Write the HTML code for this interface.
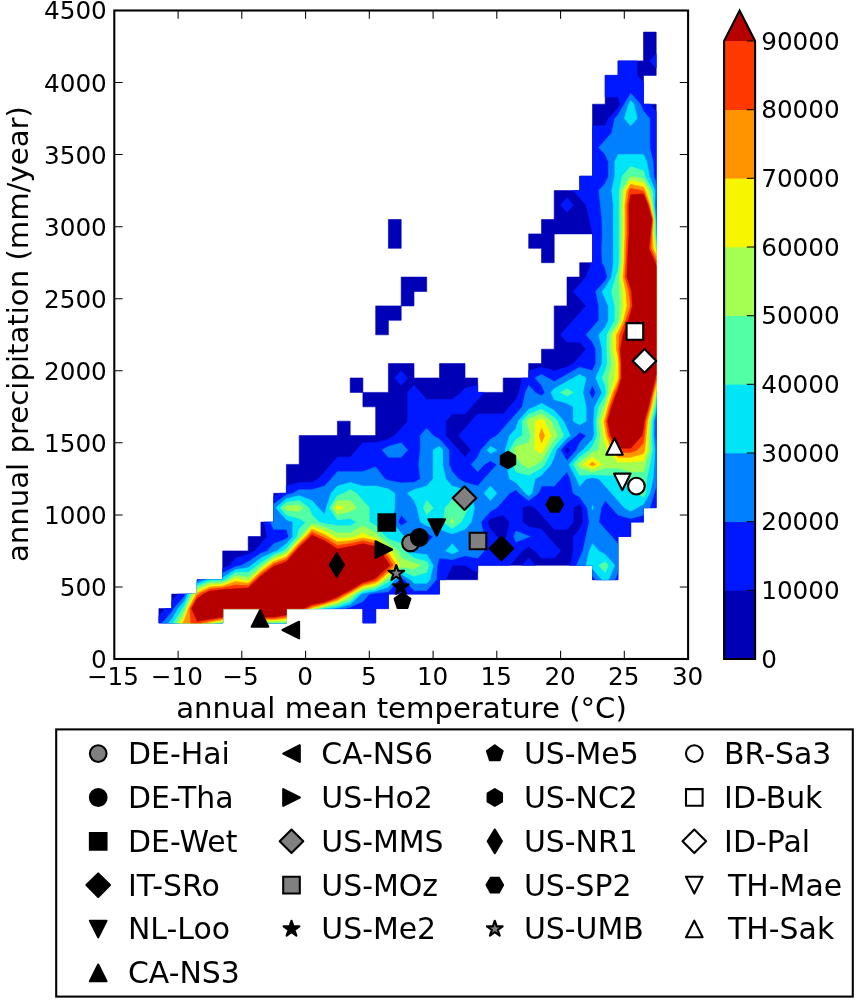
<!DOCTYPE html>
<html lang="en"><head><meta charset="utf-8"><title>Climate space of sites</title>
<style>html,body{margin:0;padding:0;background:#fff}svg{display:block}</style></head>
<body>
<svg width="861" height="1000" viewBox="0 0 861 1000">
<rect width="861" height="1000" fill="#fff"/>
<g stroke-linejoin="round">
<path d="M171.7 623.0L184.4 623.0L197.2 623.0L209.9 623.0L222.7 623.0L222.7 608.6L235.4 608.6L248.2 608.6L260.9 608.6L260.9 623.0L273.7 623.0L286.4 623.0L286.4 608.6L299.2 608.6L311.9 608.6L324.7 608.6L337.4 608.6L350.2 608.6L362.9 608.6L362.9 623.0L375.7 623.0L375.7 608.6L388.4 608.6L388.4 594.1L401.2 594.1L414.0 594.1L426.7 594.1L439.5 594.1L439.5 579.7L452.2 579.7L465.0 579.7L477.7 579.7L477.7 565.3L490.5 565.3L503.2 565.3L516.0 565.3L528.7 565.3L541.5 565.3L554.2 565.3L567.0 565.3L579.7 565.3L592.5 565.3L592.5 579.7L605.2 579.7L618.0 579.7L618.0 565.3L618.0 550.9L618.0 536.5L630.7 536.5L630.7 522.1L643.5 522.1L643.5 507.7L656.2 507.7L656.2 493.3L656.2 478.9L656.2 464.4L656.2 450.0L656.2 435.6L656.2 421.2L656.2 406.8L656.2 392.4L656.2 378.0L656.2 363.6L656.2 349.2L656.2 334.8L656.2 320.3L656.2 305.9L656.2 291.5L656.2 277.1L656.2 262.7L656.2 248.3L656.2 233.9L656.2 219.5L656.2 205.1L656.2 190.6L656.2 176.2L656.2 161.8L656.2 147.4L656.2 133.0L656.2 118.6L656.2 104.2L643.5 104.2L643.5 89.8L643.5 75.4L656.2 75.4L656.2 60.9L656.2 46.5L656.2 32.1L643.5 32.1L643.5 46.5L643.5 60.9L630.7 60.9L618.0 60.9L618.0 75.4L605.2 75.4L605.2 89.8L605.2 104.2L592.5 104.2L592.5 118.6L592.5 133.0L592.5 147.4L592.5 161.8L592.5 176.2L579.7 176.2L579.7 190.6L567.0 190.6L554.2 190.6L554.2 205.1L554.2 219.5L541.5 219.5L541.5 233.9L528.7 233.9L528.7 248.3L541.5 248.3L541.5 262.7L554.2 262.7L554.2 248.3L554.2 233.9L567.0 233.9L579.7 233.9L592.5 233.9L592.5 248.3L592.5 262.7L579.7 262.7L579.7 277.1L567.0 277.1L567.0 291.5L567.0 305.9L554.2 305.9L554.2 320.3L554.2 334.8L554.2 349.2L541.5 349.2L541.5 363.6L528.7 363.6L528.7 378.0L516.0 378.0L503.2 378.0L503.2 392.4L490.5 392.4L477.7 392.4L477.7 378.0L465.0 378.0L465.0 363.6L452.2 363.6L439.5 363.6L439.5 378.0L426.7 378.0L414.0 378.0L414.0 363.6L401.2 363.6L388.4 363.6L388.4 378.0L388.4 392.4L375.7 392.4L362.9 392.4L362.9 406.8L375.7 406.8L375.7 421.2L375.7 435.6L362.9 435.6L350.2 435.6L350.2 421.2L337.4 421.2L337.4 435.6L324.7 435.6L311.9 435.6L299.2 435.6L299.2 450.0L299.2 464.4L286.4 464.4L286.4 478.9L286.4 493.3L273.7 493.3L273.7 507.7L273.7 522.1L260.9 522.1L260.9 536.5L248.2 536.5L248.2 550.9L235.4 550.9L222.7 550.9L222.7 565.3L222.7 579.7L209.9 579.7L197.2 579.7L197.2 594.1L184.4 594.1L171.7 594.1L171.7 608.6L158.9 608.6L158.9 623.0ZM362.9 392.4L362.9 378.0L350.2 378.0L350.2 392.4ZM388.4 334.8L388.4 320.3L401.2 320.3L401.2 305.9L388.4 305.9L375.7 305.9L375.7 320.3L375.7 334.8ZM414.0 305.9L414.0 291.5L426.7 291.5L426.7 277.1L414.0 277.1L401.2 277.1L401.2 291.5L401.2 305.9ZM401.2 248.3L401.2 233.9L401.2 219.5L388.4 219.5L388.4 233.9L388.4 248.3Z" fill="#0000b6" stroke="#0000b6" stroke-width="0.6" fill-rule="evenodd"/>
<path d="M171.7 623.0L184.4 623.0L197.2 623.0L209.9 623.0L222.7 623.0L222.7 608.6L235.4 608.6L248.2 608.6L260.9 608.6L260.9 623.0L273.7 623.0L286.4 623.0L286.4 608.6L299.2 608.6L311.9 608.6L324.7 608.6L337.4 608.6L350.2 608.6L362.9 608.6L362.9 623.0L375.7 623.0L375.7 608.6L388.4 608.6L388.4 594.1L401.2 594.1L414.0 594.1L426.7 594.1L439.5 594.1L439.5 579.7L445.8 579.7L452.2 565.3L452.2 565.3L465.0 565.3L465.0 565.3L477.7 572.5L477.7 565.3L490.5 565.3L503.2 565.3L509.6 565.3L516.0 558.1L522.3 550.9L528.7 546.3L535.1 550.9L541.5 558.1L554.2 558.1L560.6 550.9L554.2 543.7L547.8 536.5L541.5 529.3L528.7 526.7L522.3 522.1L522.3 507.7L528.7 505.3L535.1 507.7L541.5 514.9L547.8 522.1L554.2 529.3L567.0 529.3L573.3 522.1L573.3 507.7L579.7 504.1L582.2 507.7L582.9 522.1L579.7 529.3L573.3 536.5L573.3 550.9L570.2 565.3L579.7 565.3L592.5 565.3L592.5 579.7L605.2 579.7L618.0 579.7L618.0 565.3L618.0 550.9L618.0 536.5L630.7 536.5L630.7 522.1L643.5 522.1L643.5 507.7L656.2 507.7L656.2 493.3L656.2 478.9L656.2 464.4L656.2 450.0L656.2 435.6L656.2 421.2L656.2 406.8L656.2 392.4L656.2 378.0L656.2 363.6L656.2 349.2L656.2 334.8L656.2 320.3L656.2 305.9L656.2 291.5L656.2 277.1L656.2 262.7L656.2 248.3L656.2 233.9L656.2 219.5L656.2 205.1L656.2 190.6L656.2 176.2L656.2 161.8L656.2 147.4L656.2 133.0L656.2 118.6L656.2 111.4L649.8 104.2L643.5 104.2L643.5 89.8L643.5 82.6L637.1 75.4L637.1 60.9L630.7 60.9L618.0 60.9L618.0 75.4L605.2 75.4L605.2 89.8L605.2 97.0L618.0 97.0L620.1 104.2L618.0 107.8L608.4 118.6L605.2 125.8L592.5 125.8L592.5 133.0L592.5 147.4L592.5 161.8L592.5 176.2L579.7 176.2L579.7 190.6L573.3 190.6L579.7 197.8L586.1 205.1L589.5 219.5L592.5 233.9L592.5 233.9L592.5 233.9L592.5 248.3L592.5 262.7L591.3 262.7L586.1 277.1L579.7 284.3L573.3 291.5L579.7 298.7L586.1 305.9L579.7 313.1L573.3 320.3L567.0 327.5L560.6 334.8L567.0 342.0L579.7 342.0L586.1 349.2L579.7 356.4L573.3 363.6L567.0 367.2L554.2 370.8L541.5 367.2L528.7 370.8L528.7 378.0L522.3 378.0L519.1 392.4L516.0 399.6L509.6 406.8L503.2 414.0L490.5 414.0L477.7 414.0L471.3 421.2L465.0 428.4L458.6 435.6L465.0 442.8L471.3 450.0L465.0 457.2L458.6 450.0L452.2 442.8L445.8 435.6L445.8 421.2L452.2 414.0L465.0 414.0L471.3 406.8L477.7 399.6L484.1 392.4L477.7 392.4L477.7 385.2L465.0 388.3L461.3 392.4L452.2 399.6L439.5 399.6L426.7 399.6L420.3 392.4L414.0 385.2L407.6 392.4L407.6 406.8L407.6 421.2L401.2 428.4L394.8 435.6L388.4 439.2L375.7 442.8L362.9 442.8L356.6 450.0L350.2 457.2L337.4 457.2L331.1 464.4L324.7 471.7L318.3 478.9L311.9 482.5L299.2 482.5L286.4 486.1L286.4 493.3L280.1 493.3L273.7 496.9L273.7 507.7L273.7 522.1L264.1 522.1L267.3 536.5L260.9 543.7L254.6 550.9L248.2 554.5L235.4 558.1L230.1 565.3L222.7 568.5L222.7 579.7L209.9 579.7L197.2 579.7L197.2 594.1L184.4 594.1L178.1 594.1L171.7 601.4L171.7 608.6L165.3 608.6L158.9 615.8L158.9 623.0ZM496.8 536.5L490.5 529.3L487.3 522.1L490.5 518.5L503.2 514.9L509.6 522.1L506.8 536.5L503.2 543.7ZM564.8 450.0L567.0 447.6L570.2 450.0L567.0 453.6ZM528.7 565.3L535.1 565.3L528.7 558.1L522.3 565.3ZM401.2 385.2L407.6 378.0L401.2 370.8L394.8 378.0ZM567.0 212.3L573.3 205.1L567.0 197.8L560.6 205.1ZM656.2 68.1L656.2 60.9L656.2 53.7L649.8 60.9Z" fill="#0018ff" stroke="#0018ff" stroke-width="0.6" fill-rule="evenodd"/>
<path d="M171.7 623.0L184.4 623.0L197.2 623.0L209.9 623.0L222.7 623.0L222.7 608.6L235.4 608.6L248.2 608.6L260.9 608.6L260.9 623.0L273.7 623.0L286.4 623.0L286.4 608.6L299.2 608.6L311.9 608.6L324.7 608.6L337.4 608.6L343.8 608.6L350.2 607.1L362.9 601.4L369.3 594.1L375.7 593.1L388.4 591.7L399.1 579.7L401.2 577.9L404.4 579.7L414.0 590.5L426.7 590.5L436.3 579.7L437.3 565.3L439.5 558.1L452.2 559.6L465.0 555.7L477.7 558.1L484.1 550.9L484.1 536.5L480.9 522.1L490.5 511.3L496.8 507.7L503.2 500.5L509.6 493.3L516.0 489.7L519.1 493.3L528.7 500.5L538.3 493.3L541.5 486.1L554.2 486.1L560.6 478.9L567.0 471.7L570.2 478.9L573.3 493.3L579.7 496.9L587.1 507.7L589.3 522.1L586.1 536.5L582.9 550.9L579.7 558.1L576.5 565.3L579.7 565.3L592.5 565.3L592.5 576.1L595.7 579.7L605.2 579.7L614.8 579.7L618.0 572.5L618.0 565.3L618.0 550.9L618.0 543.7L611.6 536.5L605.2 529.3L598.8 522.1L601.2 507.7L605.2 500.5L611.6 507.7L618.0 514.9L630.7 518.5L643.5 514.9L643.5 507.7L649.8 507.7L654.1 493.3L656.2 486.1L656.2 478.9L656.2 464.4L656.2 450.0L656.2 442.8L655.3 435.6L655.4 421.2L656.2 417.6L656.2 406.8L656.2 392.4L656.2 378.0L656.2 363.6L656.2 349.2L656.2 334.8L656.2 320.3L656.2 305.9L656.2 291.5L656.2 277.1L656.2 262.7L656.2 248.3L656.2 233.9L656.2 219.5L656.2 212.3L655.7 205.1L656.2 197.8L656.2 190.6L656.2 183.4L653.9 176.2L653.0 161.8L649.8 147.4L649.8 133.0L649.8 118.6L643.5 111.4L640.3 104.2L630.7 93.4L624.3 104.2L618.0 115.0L614.8 118.6L611.6 133.0L605.2 140.2L598.8 147.4L605.2 154.6L608.4 161.8L608.4 176.2L605.2 183.4L598.8 190.6L600.4 205.1L601.9 219.5L602.3 233.9L601.7 248.3L602.2 262.7L605.2 268.1L607.3 277.1L605.2 280.7L595.7 291.5L598.8 305.9L598.8 320.3L592.5 327.5L586.1 334.8L592.5 342.0L595.7 349.2L595.7 363.6L592.5 370.8L579.7 367.2L567.0 374.4L560.6 378.0L554.2 381.6L547.8 378.0L541.5 374.4L535.1 378.0L541.5 385.2L544.7 392.4L541.5 396.0L535.1 392.4L528.7 385.2L525.5 392.4L522.3 406.8L516.0 414.0L509.6 421.2L503.2 428.4L496.8 435.6L490.5 439.2L480.9 450.0L477.7 457.2L471.3 464.4L477.7 471.7L484.1 464.4L490.5 460.8L496.8 464.4L490.5 471.7L484.1 478.9L477.7 486.1L465.0 482.5L458.6 478.9L452.2 471.7L449.0 464.4L449.0 450.0L439.5 439.2L433.1 435.6L426.7 428.4L420.3 435.6L420.3 450.0L418.7 464.4L420.3 478.9L414.0 482.5L401.2 483.0L388.4 480.6L384.8 478.9L375.7 466.9L362.9 471.7L350.2 471.7L337.4 471.7L331.1 478.9L324.7 486.1L311.9 489.7L299.2 489.7L292.8 493.3L286.4 495.1L273.7 504.1L273.7 507.7L273.7 522.1L270.5 522.1L273.7 529.3L286.4 529.3L288.6 536.5L286.4 538.9L273.7 543.7L267.3 550.9L260.9 553.3L248.2 561.7L241.8 565.3L235.4 566.8L222.7 573.0L222.7 579.7L209.9 579.7L200.4 579.7L197.2 580.9L197.2 594.1L185.5 594.1L184.4 596.6L173.8 608.6L171.7 612.2L162.1 623.0ZM410.8 536.5L414.0 529.3L426.7 532.9L433.1 536.5L426.7 543.7L414.0 543.7ZM398.0 522.1L401.2 514.9L407.6 522.1L401.2 525.7ZM560.6 450.0L567.0 442.8L576.5 435.6L579.7 432.0L586.1 435.6L579.7 442.8L576.5 450.0L567.0 460.8ZM589.3 392.4L592.5 385.2L595.7 392.4L592.5 399.6ZM516.0 541.9L528.7 537.0L529.9 536.5L528.7 536.0L516.0 531.1L513.8 536.5ZM388.4 457.2L401.2 457.2L407.6 450.0L401.2 442.8L388.4 446.4L382.1 450.0Z" fill="#0080ff" stroke="#0080ff" stroke-width="0.6" fill-rule="evenodd"/>
<path d="M171.7 623.0L184.4 623.0L197.2 623.0L209.9 623.0L222.7 623.0L222.7 608.6L235.4 608.6L248.2 608.6L260.9 608.6L260.9 623.0L273.7 623.0L286.4 623.0L286.4 608.6L299.2 608.6L311.9 608.6L324.7 608.6L331.1 608.6L337.4 607.7L350.2 604.2L361.4 594.1L362.9 593.2L375.7 591.1L388.4 586.9L394.8 579.7L401.2 574.3L410.8 579.7L414.0 583.3L426.7 583.3L429.9 579.7L433.1 565.3L426.7 554.5L414.0 553.3L410.8 550.9L404.4 536.5L401.2 532.9L391.6 522.1L394.8 507.7L394.8 493.3L388.4 489.0L375.7 486.1L362.9 486.1L350.2 482.5L337.4 486.1L331.1 493.3L326.3 507.7L324.7 514.2L318.3 507.7L311.9 500.5L299.2 495.7L286.4 498.7L275.8 507.7L286.4 519.7L292.8 522.1L292.8 536.5L286.4 543.7L276.9 550.9L273.7 552.1L260.9 558.1L251.4 565.3L248.2 567.7L235.4 569.7L222.7 577.5L222.7 579.7L209.9 579.7L206.7 579.7L197.2 583.3L197.2 594.1L187.6 594.1L184.4 601.4L178.1 608.6L171.7 619.4L168.5 623.0ZM605.2 579.7L608.4 579.7L614.8 565.3L605.2 554.5L598.8 550.9L592.5 543.7L589.3 550.9L586.1 565.3L592.5 565.3L592.5 568.9L602.0 579.7ZM452.2 553.8L458.6 550.9L452.2 543.7L445.8 550.9ZM426.7 525.7L439.5 529.3L452.2 533.8L465.0 529.3L471.3 522.1L474.5 507.7L471.3 493.3L465.0 489.7L452.2 486.1L445.8 478.9L442.6 464.4L442.6 450.0L439.5 446.4L433.1 450.0L433.1 464.4L433.1 478.9L426.7 486.1L414.0 489.7L407.6 493.3L414.0 500.5L417.1 507.7L420.3 522.1ZM592.5 510.1L593.3 507.7L592.5 505.3L592.0 507.7ZM630.7 511.3L637.1 507.7L643.5 504.1L649.8 493.3L653.0 478.9L654.1 464.4L654.9 450.0L653.5 435.6L653.8 421.2L656.2 410.4L656.2 406.8L656.2 392.4L656.2 378.0L656.2 363.6L656.2 349.2L656.2 334.8L656.2 320.3L656.2 305.9L656.2 291.5L656.2 277.1L656.2 262.7L656.2 248.3L656.2 233.9L656.2 226.7L655.9 219.5L654.6 205.1L655.0 190.6L649.4 176.2L646.7 161.8L643.5 154.6L630.7 154.6L618.0 154.6L614.8 161.8L614.8 176.2L611.6 190.6L613.3 205.1L613.3 219.5L613.3 233.9L613.3 248.3L613.3 262.7L611.6 277.1L605.2 287.9L602.0 291.5L605.2 298.7L608.4 305.9L608.4 320.3L605.2 327.5L598.8 334.8L602.0 349.2L602.0 363.6L595.7 378.0L602.0 392.4L594.6 406.8L593.7 421.2L594.1 435.6L592.5 439.2L582.9 450.0L579.7 452.4L569.1 464.4L576.5 478.9L579.7 486.1L586.1 478.9L592.5 477.4L598.8 478.9L605.2 486.1L611.6 493.3L618.0 500.5L624.3 507.7ZM490.5 500.5L496.8 493.3L490.5 486.1L484.1 493.3ZM528.7 495.7L531.9 493.3L535.1 478.9L541.5 475.3L551.0 464.4L554.2 457.2L556.3 450.0L567.0 438.0L570.2 435.6L567.0 428.4L563.8 421.2L554.2 410.4L547.8 406.8L541.5 403.2L535.1 406.8L528.7 409.2L518.1 421.2L516.0 428.4L509.6 435.6L505.3 450.0L506.4 464.4L509.6 478.9L516.0 482.5L525.5 493.3ZM490.5 453.6L496.8 450.0L490.5 446.4L487.3 450.0ZM579.7 424.8L586.1 421.2L586.1 406.8L582.9 392.4L586.1 378.0L579.7 374.4L573.3 378.0L567.0 381.6L554.2 388.8L551.0 392.4L554.2 399.6L567.0 403.2L573.3 406.8L573.3 421.2ZM630.7 125.8L637.1 118.6L633.9 104.2L630.7 100.6L628.6 104.2L624.3 118.6Z" fill="#00e4f8" stroke="#00e4f8" stroke-width="0.6" fill-rule="evenodd"/>
<path d="M184.4 623.0L197.2 623.0L209.9 623.0L222.7 623.0L222.7 608.6L235.4 608.6L248.2 608.6L260.9 608.6L260.9 623.0L273.7 623.0L286.4 623.0L286.4 608.6L299.2 608.6L311.9 608.6L322.6 608.6L324.7 608.0L337.4 605.9L350.2 601.4L358.2 594.1L362.9 591.4L375.7 589.0L388.4 582.1L390.6 579.7L401.2 570.7L414.0 576.1L426.7 572.5L428.8 565.3L426.7 561.7L414.0 558.1L404.4 550.9L401.2 543.7L388.4 538.9L385.3 536.5L375.7 525.7L369.3 522.1L369.3 507.7L362.9 500.5L356.6 493.3L350.2 489.7L343.8 493.3L337.4 495.7L329.5 507.7L337.4 519.7L350.2 518.5L356.6 522.1L350.2 525.7L337.4 525.7L324.7 523.6L319.0 522.1L311.9 514.9L308.8 507.7L299.2 500.5L286.4 502.3L280.1 507.7L286.4 514.9L299.2 518.5L305.6 522.1L299.2 529.3L297.1 536.5L286.4 548.5L283.3 550.9L273.7 554.5L260.9 562.9L257.8 565.3L248.2 572.5L235.4 572.5L224.8 579.7L222.7 580.6L209.9 580.8L197.2 585.7L197.2 594.1L189.7 594.1L184.4 606.2L182.3 608.6L173.3 623.0ZM605.2 572.5L608.4 565.3L605.2 561.7L598.8 565.3ZM452.2 528.5L461.2 522.1L465.0 514.9L468.1 507.7L465.0 500.5L452.2 499.8L445.2 507.7L443.2 522.1ZM426.7 514.9L433.1 507.7L426.7 500.5L423.5 507.7ZM643.5 496.9L645.6 493.3L646.7 478.9L649.8 464.4L652.4 450.0L651.7 435.6L652.2 421.2L655.5 406.8L656.2 403.2L656.2 392.4L656.2 378.0L656.2 363.6L656.2 349.2L656.2 334.8L656.2 320.3L656.2 305.9L656.2 291.5L656.2 277.1L656.2 262.7L656.2 248.3L656.2 237.5L655.7 233.9L655.2 219.5L653.5 205.1L652.6 190.6L644.8 176.2L643.5 170.8L630.7 166.6L622.2 176.2L619.2 190.6L619.1 205.1L619.1 219.5L619.1 233.9L619.1 248.3L619.0 262.7L618.0 270.6L615.8 277.1L611.6 291.5L614.8 305.9L614.8 320.3L606.8 334.8L606.8 349.2L607.3 363.6L605.2 370.8L602.0 378.0L605.2 385.2L606.3 392.4L605.2 396.0L598.8 406.8L596.3 421.2L597.2 435.6L592.5 446.4L589.3 450.0L579.7 457.2L573.3 464.4L579.7 475.3L592.5 474.5L605.2 475.3L618.0 475.3L624.3 478.9L630.7 486.1L637.1 493.3ZM516.0 471.7L528.7 475.3L541.5 468.1L544.7 464.4L552.1 450.0L554.2 446.4L563.8 435.6L557.4 421.2L554.2 417.6L541.5 409.2L528.7 414.0L522.3 421.2L522.3 435.6L516.0 439.2L509.6 450.0L512.8 464.4ZM567.0 396.0L573.3 392.4L567.0 388.8L560.6 392.4Z" fill="#53ffa4" stroke="#53ffa4" stroke-width="0.6" fill-rule="evenodd"/>
<path d="M184.4 623.0L197.2 623.0L209.9 623.0L219.5 623.0L222.7 622.3L222.7 608.6L235.4 608.6L248.2 608.6L260.9 608.6L260.9 622.3L273.7 622.3L286.4 622.1L286.4 608.6L299.2 608.6L311.9 608.6L318.3 608.6L324.7 606.8L337.4 604.1L350.2 598.5L355.0 594.1L362.9 589.6L375.7 586.9L386.9 579.7L388.4 578.3L401.2 567.1L414.0 568.9L420.3 565.3L414.0 562.9L401.2 558.1L398.0 550.9L388.4 543.7L378.9 536.5L375.7 532.9L362.9 525.7L350.2 532.9L337.4 532.9L324.7 527.3L311.9 523.5L300.5 536.5L299.2 537.7L287.5 550.9L286.4 552.1L273.7 556.9L262.5 565.3L260.9 566.5L248.2 577.3L235.4 575.4L229.1 579.7L222.7 582.4L209.9 582.8L197.2 588.1L197.2 594.1L191.9 594.1L185.2 608.6L184.4 611.0L176.5 623.0ZM452.2 523.2L453.7 522.1L452.2 517.3L450.7 522.1ZM286.4 510.1L299.2 511.3L302.4 507.7L299.2 505.3L286.4 505.9L284.3 507.7ZM337.4 514.9L350.2 511.3L356.6 507.7L350.2 500.5L337.4 500.5L332.7 507.7ZM528.7 468.1L535.1 464.4L541.5 460.8L547.8 450.0L554.2 439.2L557.4 435.6L554.2 428.4L551.0 421.2L541.5 414.0L528.7 418.8L526.6 421.2L528.7 428.4L530.8 435.6L528.7 442.8L516.0 446.4L513.8 450.0L516.0 457.2L522.3 464.4ZM579.7 468.1L592.5 471.7L605.2 468.1L618.0 468.1L630.7 471.7L643.5 471.7L645.6 464.4L649.8 450.0L649.8 435.6L650.6 421.2L654.1 406.8L656.2 396.0L656.2 392.4L656.2 378.0L656.2 363.6L656.2 349.2L656.2 334.8L656.2 320.3L656.2 305.9L656.2 291.5L656.2 277.1L656.2 262.7L656.2 248.3L656.2 244.7L654.6 233.9L654.5 219.5L652.3 205.1L650.2 190.6L643.5 179.1L630.7 176.2L621.7 190.6L621.1 205.1L621.1 219.5L621.1 233.9L620.9 248.3L620.7 262.7L619.0 277.1L619.6 291.5L619.8 305.9L619.1 320.3L618.0 322.7L610.0 334.8L610.0 349.2L611.6 363.6L608.4 378.0L608.4 392.4L605.2 403.2L603.1 406.8L598.8 421.2L600.4 435.6L598.8 450.0L592.5 452.4L579.7 462.0L577.6 464.4Z" fill="#a4ff53" stroke="#a4ff53" stroke-width="0.6" fill-rule="evenodd"/>
<path d="M184.4 623.0L197.2 623.0L209.9 623.0L213.1 623.0L222.7 621.0L222.7 608.6L235.4 608.6L248.2 608.6L260.9 608.6L260.9 621.0L273.7 621.0L286.4 620.3L286.4 608.6L299.2 608.6L311.9 608.6L314.1 608.6L324.7 605.6L337.4 602.3L350.2 595.6L351.8 594.1L362.9 587.8L375.7 584.9L383.7 579.7L388.4 575.4L399.6 565.3L391.6 550.9L388.4 548.5L375.7 537.9L369.3 536.5L362.9 532.9L356.6 536.5L350.2 537.9L337.4 538.3L334.3 536.5L324.7 531.0L311.9 526.4L303.0 536.5L299.2 540.1L289.6 550.9L286.4 554.5L273.7 559.3L265.7 565.3L260.9 568.9L249.5 579.7L248.2 580.9L241.8 579.7L235.4 578.3L233.3 579.7L222.7 584.2L209.9 584.9L197.2 590.5L197.2 594.1L194.0 594.1L186.8 608.6L184.4 615.8L179.6 623.0ZM337.4 510.1L343.8 507.7L337.4 505.3L335.9 507.7ZM592.5 468.8L602.0 464.4L592.5 457.2L582.9 464.4ZM541.5 453.6L543.6 450.0L551.0 435.6L544.7 421.2L541.5 418.8L535.1 421.2L535.1 435.6L535.1 450.0ZM618.0 462.0L630.7 462.0L643.5 460.8L647.3 450.0L648.0 435.6L649.0 421.2L652.7 406.8L655.6 392.4L656.2 390.0L656.2 378.0L656.2 363.6L656.2 349.2L656.2 334.8L656.2 320.3L656.2 305.9L656.2 291.5L656.2 277.1L656.2 262.7L656.2 250.7L655.2 248.3L653.6 233.9L653.9 219.5L651.2 205.1L647.8 190.6L643.5 183.2L630.7 180.2L624.2 190.6L623.0 205.1L623.1 219.5L623.1 233.9L622.7 248.3L622.4 262.7L621.0 277.1L622.8 291.5L623.4 305.9L621.4 320.3L618.0 327.5L613.2 334.8L613.2 349.2L615.8 363.6L614.8 378.0L610.5 392.4L606.1 406.8L605.2 410.4L601.4 421.2L603.6 435.6L605.2 442.8L607.3 450.0Z" fill="#f8f500" stroke="#f8f500" stroke-width="0.6" fill-rule="evenodd"/>
<path d="M184.4 623.0L197.2 623.0L206.7 623.0L209.9 622.2L222.7 619.7L222.7 608.6L235.4 608.6L248.2 608.6L260.9 608.6L260.9 619.7L273.7 619.7L286.4 618.5L286.4 608.6L299.2 608.6L310.3 608.6L311.9 607.8L324.7 604.4L337.4 600.5L348.6 594.1L350.2 593.3L362.9 586.0L375.7 582.8L380.5 579.7L388.4 572.5L396.4 565.3L388.4 553.3L386.9 550.9L375.7 540.8L362.9 537.9L350.2 540.8L337.4 541.9L327.9 536.5L324.7 534.7L311.9 529.3L305.6 536.5L299.2 542.5L291.8 550.9L286.4 556.9L273.7 561.7L268.9 565.3L260.9 571.3L252.0 579.7L248.2 583.3L235.4 581.5L222.7 586.0L209.9 586.9L197.2 592.9L197.2 594.1L196.1 594.1L188.4 608.6L184.4 620.6L182.8 623.0ZM592.5 465.9L595.7 464.4L592.5 462.0L589.3 464.4ZM618.0 457.2L630.7 457.2L643.5 453.6L644.7 450.0L646.2 435.6L647.5 421.2L651.3 406.8L654.3 392.4L656.2 385.2L656.2 378.0L656.2 363.6L656.2 349.2L656.2 334.8L656.2 320.3L656.2 305.9L656.2 291.5L656.2 277.1L656.2 262.7L656.2 255.5L653.0 248.3L652.5 233.9L653.2 219.5L650.1 205.1L645.4 190.6L643.5 187.3L630.7 184.2L626.7 190.6L624.9 205.1L625.0 219.5L625.0 233.9L624.5 248.3L624.1 262.7L622.9 277.1L625.9 291.5L627.1 305.9L623.7 320.3L618.0 332.3L616.4 334.8L616.4 349.2L618.0 356.4L618.7 363.6L618.7 378.0L618.0 380.4L612.7 392.4L608.0 406.8L605.2 417.6L603.9 421.2L605.2 428.4L606.3 435.6L611.6 450.0ZM541.5 442.8L544.7 435.6L541.5 428.4L539.3 435.6Z" fill="#ff9400" stroke="#ff9400" stroke-width="0.6" fill-rule="evenodd"/>
<path d="M197.2 623.0L200.4 623.0L209.9 620.6L222.7 618.4L222.7 608.6L235.4 608.6L248.2 608.6L260.9 608.6L260.9 618.4L273.7 618.4L286.4 616.7L286.4 608.6L299.2 608.6L307.2 608.6L311.9 606.2L324.7 603.2L337.4 598.7L345.4 594.1L350.2 591.7L362.9 584.2L375.7 580.8L377.3 579.7L388.4 569.7L393.2 565.3L388.4 558.1L383.7 550.9L375.7 543.7L362.9 540.8L350.2 543.7L337.4 545.5L324.7 537.9L321.5 536.5L311.9 532.2L308.1 536.5L299.2 544.9L293.9 550.9L286.4 559.3L273.7 564.1L272.1 565.3L260.9 573.7L254.6 579.7L248.2 585.7L235.4 585.1L222.7 587.8L209.9 589.0L199.3 594.1L197.2 595.6L190.0 608.6L190.8 623.0ZM618.0 452.4L630.7 452.4L637.1 450.0L643.5 442.8L644.4 435.6L645.9 421.2L649.8 406.8L653.0 392.4L656.2 380.4L656.2 378.0L656.2 363.6L656.2 349.2L656.2 334.8L656.2 320.3L656.2 305.9L656.2 291.5L656.2 277.1L656.2 262.7L656.2 260.3L650.9 248.3L651.4 233.9L652.5 219.5L649.0 205.1L643.5 191.2L640.3 190.6L630.7 188.2L629.2 190.6L626.9 205.1L627.0 219.5L627.0 233.9L626.3 248.3L625.8 262.7L624.9 277.1L629.1 291.5L630.7 305.9L630.7 305.9L630.7 305.9L625.9 320.3L619.7 334.8L618.8 349.2L620.1 363.6L620.1 378.0L618.0 385.2L614.8 392.4L609.8 406.8L606.0 421.2L608.4 435.6L615.8 450.0Z" fill="#ff3800" stroke="#ff3800" stroke-width="0.6" fill-rule="evenodd"/>
<path d="M197.2 621.2L209.9 619.0L222.7 617.1L222.7 608.6L235.4 608.6L248.2 608.6L260.9 608.6L260.9 617.1L273.7 617.1L286.4 614.9L286.4 608.6L299.2 608.6L304.0 608.6L311.9 604.6L324.7 602.0L337.4 596.9L342.2 594.1L350.2 590.1L362.9 582.4L372.5 579.7L375.7 577.9L388.4 566.8L390.0 565.3L388.4 562.9L380.5 550.9L375.7 546.6L362.9 543.7L350.2 546.6L337.4 549.1L324.7 540.8L315.1 536.5L311.9 535.1L310.7 536.5L299.2 547.3L296.0 550.9L286.4 561.7L276.9 565.3L273.7 566.4L260.9 576.1L257.1 579.7L248.2 588.1L235.4 588.7L222.7 589.6L209.9 591.1L203.6 594.1L197.2 598.5L191.6 608.6ZM618.0 448.2L630.7 448.2L641.9 435.6L643.5 428.4L644.3 421.2L648.4 406.8L651.8 392.4L655.3 378.0L656.2 374.4L656.2 363.6L656.2 349.2L656.2 334.8L656.2 320.3L656.2 305.9L656.2 291.5L656.2 277.1L656.2 266.3L655.3 262.7L648.8 248.3L650.4 233.9L651.9 219.5L647.9 205.1L643.5 194.0L630.7 194.8L628.8 205.0L629.0 219.5L629.0 233.9L628.2 248.3L627.5 262.7L626.9 277.1L630.7 288.5L631.6 291.5L632.4 305.9L630.7 312.8L628.2 320.3L623.1 334.8L620.4 349.2L621.5 363.6L621.5 378.0L618.0 390.0L616.9 392.4L611.6 406.8L607.6 421.2L610.5 435.6Z" fill="#b60000" stroke="#b60000" stroke-width="0.6" fill-rule="evenodd"/>
</g>
<g>
<circle cx="410.5" cy="543.0" r="8.34" fill="#808080" stroke="#000" stroke-width="2.08" stroke-linejoin="round"/>
<circle cx="419.3" cy="537.5" r="8.34" fill="#000" stroke="#000" stroke-width="2.08" stroke-linejoin="round"/>
<polygon points="378.5,530.8 395.1,530.8 395.1,514.2 378.5,514.2" fill="#000" stroke="#000" stroke-width="2.08" stroke-linejoin="miter"/>
<polygon points="501.4,560.3 513.2,548.5 501.4,536.7 489.6,548.5" fill="#000" stroke="#000" stroke-width="2.08" stroke-linejoin="round"/>
<polygon points="436.7,535.8 428.4,519.2 445.0,519.2" fill="#000" stroke="#000" stroke-width="2.08" stroke-linejoin="round"/>
<polygon points="260.0,610.2 251.7,626.8 268.3,626.8" fill="#000" stroke="#000" stroke-width="2.08" stroke-linejoin="round"/>
<polygon points="282.5,630.0 299.1,638.3 299.1,621.7" fill="#000" stroke="#000" stroke-width="2.08" stroke-linejoin="round"/>
<polygon points="392.1,549.5 375.5,557.8 375.5,541.2" fill="#000" stroke="#000" stroke-width="2.08" stroke-linejoin="round"/>
<polygon points="464.5,509.9 476.3,498.1 464.5,486.3 452.7,498.1" fill="#808080" stroke="#000" stroke-width="2.08" stroke-linejoin="round"/>
<polygon points="469.7,549.3 486.3,549.3 486.3,532.7 469.7,532.7" fill="#808080" stroke="#000" stroke-width="2.08" stroke-linejoin="miter"/>
<polygon points="400.8,578.7 398.9,584.4 392.9,584.4 397.8,588.0 395.9,593.7 400.8,590.2 405.7,593.7 403.8,588.0 408.7,584.4 402.7,584.4" fill="#000" stroke="#000" stroke-width="2.08" stroke-linejoin="round"/>
<polygon points="402.5,593.0 394.6,598.7 397.6,608.0 407.4,608.0 410.4,598.7" fill="#000" stroke="#000" stroke-width="2.08" stroke-linejoin="round"/>
<polygon points="508.0,451.7 500.8,455.8 500.8,464.2 508.0,468.3 515.2,464.2 515.2,455.8" fill="#000" stroke="#000" stroke-width="2.08" stroke-linejoin="round"/>
<polygon points="336.8,576.8 343.9,565.0 336.8,553.2 329.7,565.0" fill="#000" stroke="#000" stroke-width="2.08" stroke-linejoin="round"/>
<polygon points="550.6,497.2 546.5,504.4 550.6,511.6 559.0,511.6 563.1,504.4 559.0,497.2" fill="#000" stroke="#000" stroke-width="2.08" stroke-linejoin="round"/>
<polygon points="396.3,565.0 394.4,570.7 388.4,570.7 393.3,574.3 391.4,580.0 396.3,576.5 401.2,580.0 399.3,574.3 404.2,570.7 398.2,570.7" fill="#808080" stroke="#000" stroke-width="2.08" stroke-linejoin="round"/>
<circle cx="636.4" cy="486.1" r="8.34" fill="#fff" stroke="#000" stroke-width="2.08" stroke-linejoin="round"/>
<polygon points="626.6,339.7 643.2,339.7 643.2,323.1 626.6,323.1" fill="#fff" stroke="#000" stroke-width="2.08" stroke-linejoin="miter"/>
<polygon points="644.5,372.7 656.3,360.9 644.5,349.1 632.7,360.9" fill="#fff" stroke="#000" stroke-width="2.08" stroke-linejoin="round"/>
<polygon points="622.3,490.2 614.0,473.6 630.6,473.6" fill="#fff" stroke="#000" stroke-width="2.08" stroke-linejoin="round"/>
<polygon points="614.5,438.2 606.2,454.8 622.8,454.8" fill="#fff" stroke="#000" stroke-width="2.08" stroke-linejoin="round"/>
</g>
<g stroke="#000" stroke-width="1.04" fill="none">
<path d="M178.1 659.0v-8.3M178.1 10.5v8.3"/>
<path d="M114.3 586.9h8.3M688.1 586.9h-8.3"/>
<path d="M241.8 659.0v-8.3M241.8 10.5v8.3"/>
<path d="M114.3 514.9h8.3M688.1 514.9h-8.3"/>
<path d="M305.6 659.0v-8.3M305.6 10.5v8.3"/>
<path d="M114.3 442.8h8.3M688.1 442.8h-8.3"/>
<path d="M369.3 659.0v-8.3M369.3 10.5v8.3"/>
<path d="M114.3 370.8h8.3M688.1 370.8h-8.3"/>
<path d="M433.1 659.0v-8.3M433.1 10.5v8.3"/>
<path d="M114.3 298.7h8.3M688.1 298.7h-8.3"/>
<path d="M496.8 659.0v-8.3M496.8 10.5v8.3"/>
<path d="M114.3 226.7h8.3M688.1 226.7h-8.3"/>
<path d="M560.6 659.0v-8.3M560.6 10.5v8.3"/>
<path d="M114.3 154.6h8.3M688.1 154.6h-8.3"/>
<path d="M624.3 659.0v-8.3M624.3 10.5v8.3"/>
<path d="M114.3 82.6h8.3M688.1 82.6h-8.3"/>
</g>
<rect x="114.3" y="10.5" width="573.8" height="648.5" fill="none" stroke="#000" stroke-width="2.08"/>
<g font-family="DejaVu Sans, Liberation Sans, sans-serif" font-size="24.7" fill="#000">
<text x="113.0" y="684.8" text-anchor="middle">−15</text>
<text x="176.8" y="684.8" text-anchor="middle">−10</text>
<text x="240.5" y="684.8" text-anchor="middle">−5</text>
<text x="305.1" y="684.8" text-anchor="middle">0</text>
<text x="368.8" y="684.8" text-anchor="middle">5</text>
<text x="432.6" y="684.8" text-anchor="middle">10</text>
<text x="496.3" y="684.8" text-anchor="middle">15</text>
<text x="560.1" y="684.8" text-anchor="middle">20</text>
<text x="623.8" y="684.8" text-anchor="middle">25</text>
<text x="687.6" y="684.8" text-anchor="middle">30</text>
<text x="106.8" y="667.9" text-anchor="end">0</text>
<text x="106.8" y="595.8" text-anchor="end">500</text>
<text x="106.8" y="523.8" text-anchor="end">1000</text>
<text x="106.8" y="451.7" text-anchor="end">1500</text>
<text x="106.8" y="379.7" text-anchor="end">2000</text>
<text x="106.8" y="307.6" text-anchor="end">2500</text>
<text x="106.8" y="235.6" text-anchor="end">3000</text>
<text x="106.8" y="163.5" text-anchor="end">3500</text>
<text x="106.8" y="91.5" text-anchor="end">4000</text>
<text x="106.8" y="19.4" text-anchor="end">4500</text>
</g>
<text x="401.5" y="717.9" text-anchor="middle" font-family="DejaVu Sans, Liberation Sans, sans-serif" font-size="29.17">annual mean temperature (°C)</text>
<text transform="translate(28.4,334.1) rotate(-90)" text-anchor="middle" font-family="DejaVu Sans, Liberation Sans, sans-serif" font-size="29.17">annual precipitation (mm/year)</text>
<rect x="724.1" y="590.03" width="31.0" height="69.27" fill="#0000b6"/>
<rect x="724.1" y="521.37" width="31.0" height="69.27" fill="#0018ff"/>
<rect x="724.1" y="452.70" width="31.0" height="69.27" fill="#0080ff"/>
<rect x="724.1" y="384.03" width="31.0" height="69.27" fill="#00e4f8"/>
<rect x="724.1" y="315.37" width="31.0" height="69.27" fill="#53ffa4"/>
<rect x="724.1" y="246.70" width="31.0" height="69.27" fill="#a4ff53"/>
<rect x="724.1" y="178.03" width="31.0" height="69.27" fill="#f8f500"/>
<rect x="724.1" y="109.37" width="31.0" height="69.27" fill="#ff9400"/>
<rect x="724.1" y="40.70" width="31.0" height="69.27" fill="#ff3800"/>
<polygon points="724.1,41.0 739.6,10.5 755.1,41.0" fill="#b60000"/>
<path d="M724.1 659.0L724.1 41.0L739.6 10.5L755.1 41.0L755.1 659.0Z" fill="none" stroke="#000" stroke-width="2.08" stroke-linejoin="miter"/>
<g stroke="#000" stroke-width="1.04">
<path d="M755.1 659.0h-8.3"/>
<path d="M755.1 590.3h-8.3"/>
<path d="M755.1 521.7h-8.3"/>
<path d="M755.1 453.0h-8.3"/>
<path d="M755.1 384.3h-8.3"/>
<path d="M755.1 315.7h-8.3"/>
<path d="M755.1 247.0h-8.3"/>
<path d="M755.1 178.3h-8.3"/>
<path d="M755.1 109.7h-8.3"/>
<path d="M755.1 41.0h-8.3"/>
</g>
<g font-family="DejaVu Sans, Liberation Sans, sans-serif" font-size="24.7" fill="#000">
<text x="761.2" y="667.5">0</text>
<text x="761.2" y="598.8">10000</text>
<text x="761.2" y="530.2">20000</text>
<text x="761.2" y="461.5">30000</text>
<text x="761.2" y="392.8">40000</text>
<text x="761.2" y="324.2">50000</text>
<text x="761.2" y="255.5">60000</text>
<text x="761.2" y="186.8">70000</text>
<text x="761.2" y="118.2">80000</text>
<text x="761.2" y="49.5">90000</text>
</g>
<rect x="56.2" y="729.4" width="796.6" height="267.2" fill="#fff" stroke="#000" stroke-width="2.08"/>
<g font-family="DejaVu Sans, Liberation Sans, sans-serif" font-size="29.90" fill="#000">
<circle cx="98.2" cy="753.6" r="8.34" fill="#808080" stroke="#000" stroke-width="2.08" stroke-linejoin="round"/>
<text x="128.0" y="764.0">DE-Hai</text>
<circle cx="98.2" cy="797.5" r="8.34" fill="#000" stroke="#000" stroke-width="2.08" stroke-linejoin="round"/>
<text x="128.0" y="807.9">DE-Tha</text>
<polygon points="89.9,849.6 106.5,849.6 106.5,833.0 89.9,833.0" fill="#000" stroke="#000" stroke-width="2.08" stroke-linejoin="miter"/>
<text x="128.0" y="851.7">DE-Wet</text>
<polygon points="98.2,896.9 110.0,885.1 98.2,873.4 86.4,885.1" fill="#000" stroke="#000" stroke-width="2.08" stroke-linejoin="round"/>
<text x="128.0" y="895.5">IT-SRo</text>
<polygon points="98.2,937.3 89.9,920.7 106.5,920.7" fill="#000" stroke="#000" stroke-width="2.08" stroke-linejoin="round"/>
<text x="128.0" y="939.4">NL-Loo</text>
<polygon points="98.2,964.5 89.9,981.2 106.5,981.2" fill="#000" stroke="#000" stroke-width="2.08" stroke-linejoin="round"/>
<text x="128.0" y="983.2">CA-NS3</text>
<polygon points="283.2,753.6 299.8,761.9 299.8,745.3" fill="#000" stroke="#000" stroke-width="2.08" stroke-linejoin="round"/>
<text x="321.3" y="764.0">CA-NS6</text>
<polygon points="299.8,797.5 283.2,805.8 283.2,789.1" fill="#000" stroke="#000" stroke-width="2.08" stroke-linejoin="round"/>
<text x="321.3" y="807.9">US-Ho2</text>
<polygon points="291.5,853.1 303.3,841.3 291.5,829.5 279.7,841.3" fill="#808080" stroke="#000" stroke-width="2.08" stroke-linejoin="round"/>
<text x="321.3" y="851.7">US-MMS</text>
<polygon points="283.2,893.5 299.8,893.5 299.8,876.8 283.2,876.8" fill="#808080" stroke="#000" stroke-width="2.08" stroke-linejoin="miter"/>
<text x="321.3" y="895.5">US-MOz</text>
<polygon points="291.5,920.7 289.6,926.4 283.6,926.4 288.5,930.0 286.6,935.7 291.5,932.2 296.4,935.7 294.5,930.0 299.4,926.4 293.4,926.4" fill="#000" stroke="#000" stroke-width="2.08" stroke-linejoin="round"/>
<text x="321.3" y="939.4">US-Me2</text>
<polygon points="494.8,745.3 486.9,751.0 489.9,760.3 499.7,760.3 502.7,751.0" fill="#000" stroke="#000" stroke-width="2.08" stroke-linejoin="round"/>
<text x="523.9" y="764.0">US-Me5</text>
<polygon points="494.8,789.1 487.6,793.3 487.6,801.6 494.8,805.8 502.0,801.6 502.0,793.3" fill="#000" stroke="#000" stroke-width="2.08" stroke-linejoin="round"/>
<text x="523.9" y="807.9">US-NC2</text>
<polygon points="494.8,853.1 501.9,841.3 494.8,829.5 487.7,841.3" fill="#000" stroke="#000" stroke-width="2.08" stroke-linejoin="round"/>
<text x="523.9" y="851.7">US-NR1</text>
<polygon points="490.6,877.9 486.5,885.1 490.6,892.4 499.0,892.4 503.1,885.1 499.0,877.9" fill="#000" stroke="#000" stroke-width="2.08" stroke-linejoin="round"/>
<text x="523.9" y="895.5">US-SP2</text>
<polygon points="494.8,920.7 492.9,926.4 486.9,926.4 491.8,930.0 489.9,935.7 494.8,932.2 499.7,935.7 497.8,930.0 502.7,926.4 496.7,926.4" fill="#808080" stroke="#000" stroke-width="2.08" stroke-linejoin="round"/>
<text x="523.9" y="939.4">US-UMB</text>
<circle cx="694.3" cy="753.6" r="8.34" fill="#fff" stroke="#000" stroke-width="2.08" stroke-linejoin="round"/>
<text x="724.1" y="764.0">BR-Sa3</text>
<polygon points="686.0,805.8 702.6,805.8 702.6,789.1 686.0,789.1" fill="#fff" stroke="#000" stroke-width="2.08" stroke-linejoin="miter"/>
<text x="724.1" y="807.9">ID-Buk</text>
<polygon points="694.3,853.1 706.1,841.3 694.3,829.5 682.5,841.3" fill="#fff" stroke="#000" stroke-width="2.08" stroke-linejoin="round"/>
<text x="724.1" y="851.7">ID-Pal</text>
<polygon points="694.3,893.5 686.0,876.8 702.6,876.8" fill="#fff" stroke="#000" stroke-width="2.08" stroke-linejoin="round"/>
<text x="728.1" y="895.5">TH-Mae</text>
<polygon points="694.3,920.7 686.0,937.3 702.6,937.3" fill="#fff" stroke="#000" stroke-width="2.08" stroke-linejoin="round"/>
<text x="728.1" y="939.4">TH-Sak</text>
</g>
</svg>
</body></html>
